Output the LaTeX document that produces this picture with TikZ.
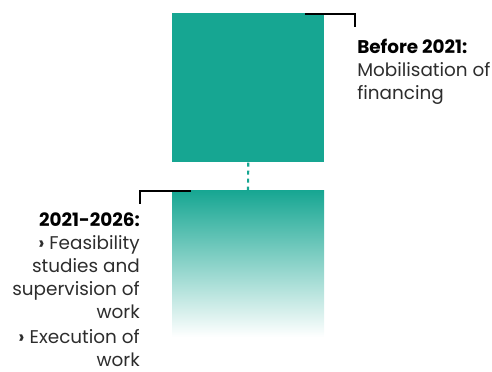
\documentclass[tikz,border=0pt]{standalone}
\usepackage{fontspec}
\setmainfont{Poppins}
\definecolor{teal1}{RGB}{22,166,146}
\definecolor{txt}{RGB}{45,45,45}
\tikzset{
  bracket/.style={line width=1.6pt,black},
  lbl/.style={inner sep=0pt,font=\fontsize{13.8}{17.25}\selectfont,text=txt},
}
\begin{document}
\begin{tikzpicture}[x=0.75pt,y=-0.75pt]
\useasboundingbox (0,0) rectangle (492,371);
\node[fill=teal1,minimum width=152*0.75pt,minimum height=149*0.75pt,inner sep=0pt,anchor=north west] (top) at (172,13) {};
\shade[top color=teal1,bottom color=white] (172,190) rectangle (324,337);
\coordinate (btop) at (248,190);
\draw[teal1,line width=1.6pt,dash pattern=on 3pt off 3pt] (top.south) -- (btop);
\coordinate (ta) at (305,14);
\coordinate (tb) at (355,14);
\coordinate (tc) at (355,27);
\draw[bracket] (ta) -- (tb) -- (tc);
\coordinate (la) at (191,191);
\coordinate (lb) at (140,191);
\coordinate (lc) at (140,204);
\draw[bracket] (la) -- (lb) -- (lc);
\node[lbl,anchor=north west,align=left] (before) at (357,39) {{\bfseries\color{black}Before 2021:}\\Mobilisation of\\financing};
\node[lbl,anchor=north east,align=right] (period) at (140,213) {{\bfseries\color{black}2021-2026:}\\{\bfseries›} Feasibility\\studies and\\supervision of\\work\\[1.5pt]{\bfseries›} Execution of\\work};
\end{tikzpicture}
\end{document}
